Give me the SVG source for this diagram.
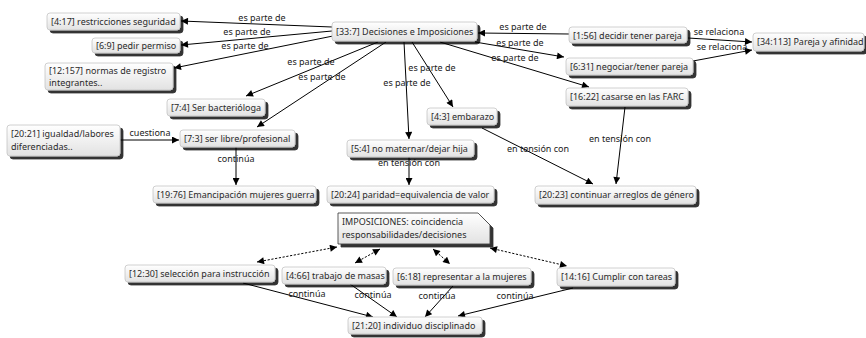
<svg xmlns="http://www.w3.org/2000/svg" width="866" height="338" viewBox="0 0 866 338">
<defs>
<linearGradient id="g" x1="0" y1="0" x2="0" y2="1">
<stop offset="0" stop-color="#ffffff"/>
<stop offset="1" stop-color="#e2e2e2"/>
</linearGradient>
<filter id="sh" x="-10%" y="-20%" width="130%" height="160%">
<feGaussianBlur in="SourceAlpha" stdDeviation="0.7"/>
<feOffset dx="2.5" dy="2.5" result="b"/>
<feComponentTransfer><feFuncA type="linear" slope="0.8"/></feComponentTransfer>
<feMerge><feMergeNode/><feMergeNode in="SourceGraphic"/></feMerge>
</filter>
<marker id="ar" viewBox="0 0 10 10" refX="10" refY="5" markerWidth="8" markerHeight="7" markerUnits="userSpaceOnUse" orient="auto-start-reverse">
<path d="M0,0 L10,5 L0,10 z" fill="#000"/>
</marker>
</defs>
<style>
.n rect, .n path{fill:url(#g);stroke:#c4c4c4;stroke-width:0.8;filter:url(#sh)}
.n path{stroke:#333}
.n text{font-family:"Noto Sans","DejaVu Sans",sans-serif;font-size:9px;fill:#2a2a2a}
.e line{stroke:#000;stroke-width:1;marker-end:url(#ar)}
.e line.d{stroke-dasharray:2.2,1.6;marker-start:url(#ar)}
.l text{font-family:"Noto Sans","DejaVu Sans",sans-serif;font-size:9px;fill:#1a1a1a;text-anchor:middle}
</style>

<g id="edges" class="e">
<line x1="332" y1="27" x2="181" y2="21"/>
<line x1="332" y1="31" x2="181" y2="45"/>
<line x1="333" y1="36" x2="174" y2="68"/>
<line x1="378" y1="42" x2="246" y2="96"/>
<line x1="386" y1="42" x2="257" y2="127"/>
<line x1="404" y1="42" x2="409" y2="139"/>
<line x1="412" y1="42" x2="453" y2="107"/>
<line x1="440" y1="42" x2="589" y2="87"/>
<line x1="475" y1="42" x2="564" y2="57"/>
<line x1="569" y1="34" x2="478" y2="33"/>
<line x1="688" y1="38" x2="752" y2="42"/>
<line x1="693" y1="61" x2="752" y2="50"/>
<line x1="120" y1="140" x2="179" y2="140"/>
<line x1="236" y1="147" x2="236" y2="185"/>
<line x1="409" y1="157" x2="409" y2="185"/>
<line x1="482" y1="128" x2="593" y2="184"/>
<line x1="625" y1="107" x2="616" y2="184"/>
<line class="d" x1="337" y1="247" x2="257" y2="262"/>
<line class="d" x1="380" y1="249" x2="355" y2="263"/>
<line class="d" x1="433" y1="249" x2="450" y2="264"/>
<line class="d" x1="490" y1="248" x2="567" y2="266"/>
<line x1="243" y1="283" x2="373" y2="317"/>
<line x1="350" y1="284" x2="397" y2="317"/>
<line x1="453" y1="286" x2="425" y2="317"/>
<line x1="573" y1="288" x2="458" y2="316"/>
</g>

<g id="labels" class="l">
<text x="262" y="21">es parte de</text>
<text x="247" y="35">es parte de</text>
<text x="245" y="49">es parte de</text>
<text x="311" y="65">es parte de</text>
<text x="322" y="80">es parte de</text>
<text x="407" y="86">es parte de</text>
<text x="432" y="71">es parte de</text>
<text x="515" y="61">es parte de</text>
<text x="520" y="46">es parte de</text>
<text x="523" y="30">es parte de</text>
<text x="719" y="35">se relaciona</text>
<text x="722" y="50">se relaciona</text>
<text x="150" y="136">cuestiona</text>
<text x="236" y="162">continúa</text>
<text x="409" y="166">en tensión con</text>
<text x="538" y="152">en tensión con</text>
<text x="620" y="142">en tensión con</text>
<text x="307" y="297">continúa</text>
<text x="373" y="298">continúa</text>
<text x="437" y="299">continúa</text>
<text x="515" y="299">continúa</text>
</g>

<g id="n1" class="n"><rect x="47" y="13" width="133" height="17" rx="3"/><text x="51" y="25">[4:17] restricciones seguridad</text></g>
<g id="n2" class="n"><rect x="92" y="38" width="88" height="15" rx="3"/><text x="96" y="49">[6:9] pedir permiso</text></g>
<g id="n3" class="n"><rect x="45" y="63" width="128" height="27" rx="3"/><text x="49" y="74">[12:157] normas de registro</text><text x="49" y="86">integrantes..</text></g>
<g id="n4" class="n"><rect x="167" y="99" width="98" height="17" rx="3"/><text x="171" y="111">[7:4] Ser bacterióloga</text></g>
<g id="n5" class="n"><rect x="332" y="22" width="145" height="19" rx="3"/><text x="336" y="35">[33:7] Decisiones e Imposiciones</text></g>
<g id="n6" class="n"><rect x="569" y="27" width="118" height="16" rx="3"/><text x="573" y="39">[1:56] decidir tener pareja</text></g>
<g id="n7" class="n"><rect x="566" y="58" width="127" height="17" rx="3"/><text x="570" y="70">[6:31] negociar/tener pareja</text></g>
<g id="n8" class="n"><rect x="566" y="88" width="122" height="18" rx="3"/><text x="570" y="100">[16:22] casarse en las FARC</text></g>
<g id="n9" class="n"><rect x="753" y="33" width="111" height="18" rx="3"/><text x="757" y="45">[34:113] Pareja y afinidad</text></g>
<g id="n10" class="n"><rect x="7" y="125" width="113" height="31" rx="3"/><text x="11" y="137">[20:21] igualdad/labores</text><text x="11" y="150">diferenciadas..</text></g>
<g id="n11" class="n"><rect x="180" y="130" width="115" height="17" rx="3"/><text x="184" y="142">[7:3] ser libre/profesional</text></g>
<g id="n12" class="n"><rect x="153" y="186" width="163" height="17" rx="3"/><text x="157" y="198">[19:76] Emancipación mujeres guerra</text></g>
<g id="n13" class="n"><rect x="347" y="140" width="127" height="17" rx="3"/><text x="351" y="152">[5:4] no maternar/dejar hija</text></g>
<g id="n14" class="n"><rect x="427" y="108" width="70" height="17" rx="3"/><text x="431" y="120">[4:3] embarazo</text></g>
<g id="n15" class="n"><rect x="327" y="186" width="167" height="17" rx="3"/><text x="331" y="198">[20:24] paridad=equivalencia de valor</text></g>
<g id="n16" class="n"><rect x="535" y="186" width="161" height="18" rx="3"/><text x="539" y="198">[20:23] continuar arreglos de género</text></g>
<g id="n17" class="n"><path d="M338,213 H478 L490,225 V244 H338 Z"/><text x="342" y="225">IMPOSICIONES: coincidencia</text><text x="342" y="238">responsabilidades/decisiones</text></g>
<g id="n18" class="n"><rect x="125" y="265" width="150" height="17" rx="3"/><text x="129" y="277">[12:30] selección para instrucción</text></g>
<g id="n19" class="n"><rect x="282" y="267" width="104" height="17" rx="3"/><text x="286" y="279">[4:66] trabajo de masas</text></g>
<g id="n20" class="n"><rect x="393" y="268" width="138" height="17" rx="3"/><text x="397" y="280">[6:18] representar a la mujeres</text></g>
<g id="n21" class="n"><rect x="557" y="268" width="118" height="18" rx="3"/><text x="561" y="280">[14:16] Cumplir con tareas</text></g>
<g id="n22" class="n"><rect x="348" y="317" width="134" height="17" rx="3"/><text x="352" y="329">[21:20] individuo disciplinado</text></g>
</svg>
